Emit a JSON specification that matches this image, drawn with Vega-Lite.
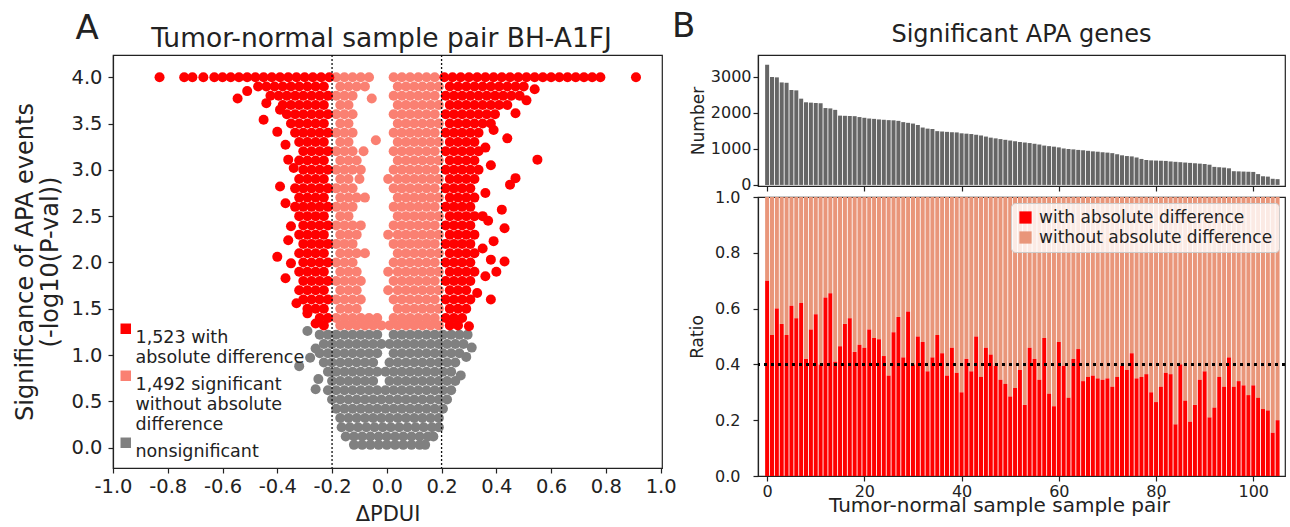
{
"$schema": "https://vega.github.io/schema/vega-lite/v6.json",
"background": "white",
"padding": {"left": 13, "top": 10, "right": 0, "bottom": 0},
"config": {
  "font": "DejaVu Sans",
  "view": {"stroke": "#222222", "strokeWidth": 1.2},
  "axis": {"domainColor": "#222222", "tickColor": "#222222", "labelColor": "#222222", "titleColor": "#222222", "grid": false, "titleFontWeight": "normal", "domainWidth": 1.2, "tickWidth": 1.2, "tickSize": 5},
  "title": {"fontWeight": "normal", "color": "#222222"},
  "legend": {"labelColor": "#222222"},
  "style": {"guide-label": {"lineHeight": 20}}
},
"datasets": {
"volcano": [
{"x":-0.29,"y":1.26,"c":"c"},
{"x":-0.245,"y":1.22,"c":"c"},{"x":-0.215,"y":1.22,"c":"c"},{"x":-0.185,"y":1.22,"c":"c"},{"x":-0.155,"y":1.22,"c":"c"},{"x":-0.125,"y":1.22,"c":"c"},{"x":-0.095,"y":1.22,"c":"c"},{"x":-0.065,"y":1.22,"c":"c"},{"x":-0.035,"y":1.22,"c":"c"},{"x":0.025,"y":1.22,"c":"c"},{"x":0.055,"y":1.22,"c":"c"},{"x":0.085,"y":1.22,"c":"c"},{"x":0.115,"y":1.22,"c":"c"},{"x":0.145,"y":1.22,"c":"c"},{"x":0.175,"y":1.22,"c":"c"},{"x":0.205,"y":1.22,"c":"c"},{"x":0.235,"y":1.22,"c":"c"},{"x":0.265,"y":1.22,"c":"c"},{"x":0.295,"y":1.22,"c":"c"},
{"x":-0.23,"y":1.12,"c":"c"},{"x":-0.2,"y":1.12,"c":"c"},{"x":-0.17,"y":1.12,"c":"c"},{"x":-0.14,"y":1.12,"c":"c"},{"x":-0.11,"y":1.12,"c":"c"},{"x":-0.08,"y":1.12,"c":"c"},{"x":-0.05,"y":1.12,"c":"c"},{"x":-0.02,"y":1.12,"c":"c"},{"x":0.01,"y":1.12,"c":"c"},{"x":0.04,"y":1.12,"c":"c"},{"x":0.07,"y":1.12,"c":"c"},{"x":0.1,"y":1.12,"c":"c"},{"x":0.13,"y":1.12,"c":"c"},{"x":0.16,"y":1.12,"c":"c"},{"x":0.19,"y":1.12,"c":"c"},{"x":0.22,"y":1.12,"c":"c"},{"x":0.25,"y":1.12,"c":"c"},{"x":0.28,"y":1.12,"c":"c"},
{"x":-0.26,"y":1.07,"c":"c"},{"x":0.31,"y":1.08,"c":"c"},
{"x":-0.245,"y":1.02,"c":"c"},{"x":-0.215,"y":1.02,"c":"c"},{"x":-0.185,"y":1.02,"c":"c"},{"x":-0.155,"y":1.02,"c":"c"},{"x":-0.125,"y":1.02,"c":"c"},{"x":-0.095,"y":1.02,"c":"c"},{"x":-0.065,"y":1.02,"c":"c"},{"x":-0.035,"y":1.02,"c":"c"},{"x":0.025,"y":1.02,"c":"c"},{"x":0.055,"y":1.02,"c":"c"},{"x":0.085,"y":1.02,"c":"c"},{"x":0.115,"y":1.02,"c":"c"},{"x":0.145,"y":1.02,"c":"c"},{"x":0.175,"y":1.02,"c":"c"},{"x":0.205,"y":1.02,"c":"c"},{"x":0.235,"y":1.02,"c":"c"},{"x":0.265,"y":1.02,"c":"c"},
{"x":0.29,"y":0.98,"c":"c"},{"x":-0.28,"y":0.97,"c":"c"},
{"x":-0.23,"y":0.92,"c":"c"},{"x":-0.2,"y":0.92,"c":"c"},{"x":-0.17,"y":0.92,"c":"c"},{"x":-0.14,"y":0.92,"c":"c"},{"x":-0.11,"y":0.92,"c":"c"},{"x":-0.08,"y":0.92,"c":"c"},{"x":-0.05,"y":0.92,"c":"c"},{"x":0.01,"y":0.92,"c":"c"},{"x":0.04,"y":0.92,"c":"c"},{"x":0.07,"y":0.92,"c":"c"},{"x":0.1,"y":0.92,"c":"c"},{"x":0.13,"y":0.92,"c":"c"},{"x":0.16,"y":0.92,"c":"c"},{"x":0.19,"y":0.92,"c":"c"},{"x":0.22,"y":0.92,"c":"c"},{"x":0.25,"y":0.92,"c":"c"},
{"x":-0.32,"y":0.88,"c":"c"},
{"x":-0.215,"y":0.82,"c":"c"},{"x":-0.185,"y":0.82,"c":"c"},{"x":-0.155,"y":0.82,"c":"c"},{"x":-0.125,"y":0.82,"c":"c"},{"x":-0.095,"y":0.82,"c":"c"},{"x":-0.065,"y":0.82,"c":"c"},{"x":-0.035,"y":0.82,"c":"c"},{"x":-0.005,"y":0.82,"c":"c"},{"x":0.025,"y":0.82,"c":"c"},{"x":0.055,"y":0.82,"c":"c"},{"x":0.085,"y":0.82,"c":"c"},{"x":0.115,"y":0.82,"c":"c"},{"x":0.145,"y":0.82,"c":"c"},{"x":0.175,"y":0.82,"c":"c"},{"x":0.205,"y":0.82,"c":"c"},{"x":0.235,"y":0.82,"c":"c"},
{"x":0.27,"y":0.78,"c":"c"},{"x":-0.25,"y":0.74,"c":"c"},
{"x":-0.2,"y":0.72,"c":"c"},{"x":-0.17,"y":0.72,"c":"c"},{"x":-0.14,"y":0.72,"c":"c"},{"x":-0.11,"y":0.72,"c":"c"},{"x":-0.08,"y":0.72,"c":"c"},{"x":-0.05,"y":0.72,"c":"c"},{"x":0.01,"y":0.72,"c":"c"},{"x":0.04,"y":0.72,"c":"c"},{"x":0.07,"y":0.72,"c":"c"},{"x":0.1,"y":0.72,"c":"c"},{"x":0.13,"y":0.72,"c":"c"},{"x":0.16,"y":0.72,"c":"c"},{"x":0.19,"y":0.72,"c":"c"},{"x":0.22,"y":0.72,"c":"c"},{"x":0.25,"y":0.72,"c":"c"},
{"x":-0.26,"y":0.63,"c":"c"},
{"x":-0.215,"y":0.62,"c":"c"},{"x":-0.185,"y":0.62,"c":"c"},{"x":-0.155,"y":0.62,"c":"c"},{"x":-0.125,"y":0.62,"c":"c"},{"x":-0.095,"y":0.62,"c":"c"},{"x":-0.065,"y":0.62,"c":"c"},{"x":-0.035,"y":0.62,"c":"c"},{"x":-0.005,"y":0.62,"c":"c"},{"x":0.025,"y":0.62,"c":"c"},{"x":0.055,"y":0.62,"c":"c"},{"x":0.085,"y":0.62,"c":"c"},{"x":0.115,"y":0.62,"c":"c"},{"x":0.145,"y":0.62,"c":"c"},{"x":0.175,"y":0.62,"c":"c"},{"x":0.205,"y":0.62,"c":"c"},{"x":0.235,"y":0.62,"c":"c"},
{"x":-0.2,"y":0.52,"c":"c"},{"x":-0.17,"y":0.52,"c":"c"},{"x":-0.14,"y":0.52,"c":"c"},{"x":-0.11,"y":0.52,"c":"c"},{"x":-0.08,"y":0.52,"c":"c"},{"x":-0.05,"y":0.52,"c":"c"},{"x":-0.02,"y":0.52,"c":"c"},{"x":0.01,"y":0.52,"c":"c"},{"x":0.04,"y":0.52,"c":"c"},{"x":0.07,"y":0.52,"c":"c"},{"x":0.1,"y":0.52,"c":"c"},{"x":0.13,"y":0.52,"c":"c"},{"x":0.16,"y":0.52,"c":"c"},{"x":0.19,"y":0.52,"c":"c"},{"x":0.22,"y":0.52,"c":"c"},
{"x":-0.185,"y":0.42,"c":"c"},{"x":-0.155,"y":0.42,"c":"c"},{"x":-0.125,"y":0.42,"c":"c"},{"x":-0.095,"y":0.42,"c":"c"},{"x":-0.065,"y":0.42,"c":"c"},{"x":-0.035,"y":0.42,"c":"c"},{"x":-0.005,"y":0.42,"c":"c"},{"x":0.025,"y":0.42,"c":"c"},{"x":0.055,"y":0.42,"c":"c"},{"x":0.085,"y":0.42,"c":"c"},{"x":0.115,"y":0.42,"c":"c"},{"x":0.145,"y":0.42,"c":"c"},{"x":0.175,"y":0.42,"c":"c"},{"x":0.205,"y":0.42,"c":"c"},
{"x":-0.17,"y":0.32,"c":"c"},{"x":-0.14,"y":0.32,"c":"c"},{"x":-0.11,"y":0.32,"c":"c"},{"x":-0.08,"y":0.32,"c":"c"},{"x":-0.05,"y":0.32,"c":"c"},{"x":-0.02,"y":0.32,"c":"c"},{"x":0.01,"y":0.32,"c":"c"},{"x":0.04,"y":0.32,"c":"c"},{"x":0.07,"y":0.32,"c":"c"},{"x":0.1,"y":0.32,"c":"c"},{"x":0.13,"y":0.32,"c":"c"},{"x":0.16,"y":0.32,"c":"c"},{"x":0.19,"y":0.32,"c":"c"},
{"x":-0.165,"y":0.22,"c":"c"},{"x":-0.135,"y":0.22,"c":"c"},{"x":-0.105,"y":0.22,"c":"c"},{"x":-0.075,"y":0.22,"c":"c"},{"x":-0.045,"y":0.22,"c":"c"},{"x":-0.015,"y":0.22,"c":"c"},{"x":0.015,"y":0.22,"c":"c"},{"x":0.045,"y":0.22,"c":"c"},{"x":0.075,"y":0.22,"c":"c"},{"x":0.105,"y":0.22,"c":"c"},{"x":0.135,"y":0.22,"c":"c"},{"x":0.165,"y":0.22,"c":"c"},{"x":0.19,"y":0.22,"c":"c"},
{"x":-0.15,"y":0.12,"c":"c"},{"x":-0.12,"y":0.12,"c":"c"},{"x":-0.09,"y":0.12,"c":"c"},{"x":-0.06,"y":0.12,"c":"c"},{"x":-0.03,"y":0.12,"c":"c"},{"x":0.0,"y":0.12,"c":"c"},{"x":0.03,"y":0.12,"c":"c"},{"x":0.06,"y":0.12,"c":"c"},{"x":0.09,"y":0.12,"c":"c"},{"x":0.12,"y":0.12,"c":"c"},{"x":0.15,"y":0.12,"c":"c"},{"x":0.17,"y":0.12,"c":"c"},
{"x":-0.12,"y":0.03,"c":"c"},{"x":-0.09,"y":0.03,"c":"c"},{"x":-0.06,"y":0.03,"c":"c"},{"x":-0.03,"y":0.03,"c":"c"},{"x":0.0,"y":0.03,"c":"c"},{"x":0.03,"y":0.03,"c":"c"},{"x":0.06,"y":0.03,"c":"c"},{"x":0.09,"y":0.03,"c":"c"},{"x":0.12,"y":0.03,"c":"c"},{"x":0.14,"y":0.03,"c":"c"},

{"x":-0.185,"y":4.0,"c":"b"},{"x":-0.155,"y":4.0,"c":"b"},{"x":-0.125,"y":4.0,"c":"b"},{"x":-0.095,"y":4.0,"c":"b"},{"x":-0.065,"y":4.0,"c":"b"},{"x":0.025,"y":4.0,"c":"b"},{"x":0.055,"y":4.0,"c":"b"},{"x":0.085,"y":4.0,"c":"b"},{"x":0.115,"y":4.0,"c":"b"},{"x":0.145,"y":4.0,"c":"b"},{"x":0.175,"y":4.0,"c":"b"},
{"x":-0.17,"y":3.9,"c":"b"},{"x":-0.14,"y":3.9,"c":"b"},{"x":-0.11,"y":3.9,"c":"b"},{"x":-0.08,"y":3.9,"c":"b"},{"x":0.04,"y":3.9,"c":"b"},{"x":0.07,"y":3.9,"c":"b"},{"x":0.1,"y":3.9,"c":"b"},{"x":0.13,"y":3.9,"c":"b"},{"x":0.16,"y":3.9,"c":"b"},{"x":0.19,"y":3.9,"c":"b"},
{"x":-0.185,"y":3.8,"c":"b"},{"x":-0.155,"y":3.8,"c":"b"},{"x":-0.125,"y":3.8,"c":"b"},{"x":-0.055,"y":3.77,"c":"b"},{"x":0.025,"y":3.8,"c":"b"},{"x":0.055,"y":3.8,"c":"b"},{"x":0.085,"y":3.8,"c":"b"},{"x":0.115,"y":3.8,"c":"b"},{"x":0.145,"y":3.8,"c":"b"},{"x":0.175,"y":3.8,"c":"b"},
{"x":-0.17,"y":3.7,"c":"b"},{"x":-0.14,"y":3.7,"c":"b"},{"x":0.04,"y":3.7,"c":"b"},{"x":0.07,"y":3.7,"c":"b"},{"x":0.1,"y":3.7,"c":"b"},{"x":0.13,"y":3.7,"c":"b"},{"x":0.16,"y":3.7,"c":"b"},{"x":0.19,"y":3.7,"c":"b"},
{"x":-0.185,"y":3.6,"c":"b"},{"x":-0.155,"y":3.6,"c":"b"},{"x":-0.125,"y":3.6,"c":"b"},{"x":0.025,"y":3.6,"c":"b"},{"x":0.055,"y":3.6,"c":"b"},{"x":0.085,"y":3.6,"c":"b"},{"x":0.115,"y":3.6,"c":"b"},{"x":0.145,"y":3.6,"c":"b"},{"x":0.175,"y":3.6,"c":"b"},
{"x":-0.17,"y":3.5,"c":"b"},{"x":-0.14,"y":3.5,"c":"b"},{"x":0.04,"y":3.5,"c":"b"},{"x":0.07,"y":3.5,"c":"b"},{"x":0.1,"y":3.5,"c":"b"},{"x":0.13,"y":3.5,"c":"b"},{"x":0.16,"y":3.5,"c":"b"},{"x":0.19,"y":3.5,"c":"b"},
{"x":-0.185,"y":3.4,"c":"b"},{"x":-0.155,"y":3.4,"c":"b"},{"x":-0.125,"y":3.4,"c":"b"},{"x":0.025,"y":3.4,"c":"b"},{"x":0.055,"y":3.4,"c":"b"},{"x":0.085,"y":3.4,"c":"b"},{"x":0.115,"y":3.4,"c":"b"},{"x":0.145,"y":3.4,"c":"b"},{"x":0.175,"y":3.4,"c":"b"},
{"x":-0.17,"y":3.3,"c":"b"},{"x":-0.14,"y":3.3,"c":"b"},{"x":-0.04,"y":3.32,"c":"b"},{"x":0.04,"y":3.3,"c":"b"},{"x":0.07,"y":3.3,"c":"b"},{"x":0.1,"y":3.3,"c":"b"},{"x":0.13,"y":3.3,"c":"b"},{"x":0.16,"y":3.3,"c":"b"},{"x":0.19,"y":3.3,"c":"b"},
{"x":-0.185,"y":3.2,"c":"b"},{"x":-0.155,"y":3.2,"c":"b"},{"x":-0.125,"y":3.2,"c":"b"},{"x":-0.085,"y":3.2,"c":"b"},{"x":0.025,"y":3.2,"c":"b"},{"x":0.055,"y":3.2,"c":"b"},{"x":0.085,"y":3.2,"c":"b"},{"x":0.115,"y":3.2,"c":"b"},{"x":0.145,"y":3.2,"c":"b"},{"x":0.175,"y":3.2,"c":"b"},
{"x":-0.17,"y":3.1,"c":"b"},{"x":-0.14,"y":3.1,"c":"b"},{"x":-0.11,"y":3.1,"c":"b"},{"x":0.04,"y":3.1,"c":"b"},{"x":0.07,"y":3.1,"c":"b"},{"x":0.1,"y":3.1,"c":"b"},{"x":0.13,"y":3.1,"c":"b"},{"x":0.16,"y":3.1,"c":"b"},{"x":0.19,"y":3.1,"c":"b"},
{"x":-0.185,"y":3.0,"c":"b"},{"x":-0.155,"y":3.0,"c":"b"},{"x":-0.125,"y":3.0,"c":"b"},{"x":-0.095,"y":3.0,"c":"b"},{"x":0.025,"y":3.0,"c":"b"},{"x":0.055,"y":3.0,"c":"b"},{"x":0.085,"y":3.0,"c":"b"},{"x":0.115,"y":3.0,"c":"b"},{"x":0.145,"y":3.0,"c":"b"},{"x":0.175,"y":3.0,"c":"b"},
{"x":-0.17,"y":2.9,"c":"b"},{"x":-0.14,"y":2.9,"c":"b"},{"x":-0.1,"y":2.9,"c":"b"},{"x":0.005,"y":2.9,"c":"b"},{"x":0.04,"y":2.9,"c":"b"},{"x":0.07,"y":2.9,"c":"b"},{"x":0.1,"y":2.9,"c":"b"},{"x":0.13,"y":2.9,"c":"b"},{"x":0.16,"y":2.9,"c":"b"},{"x":0.19,"y":2.9,"c":"b"},
{"x":-0.185,"y":2.8,"c":"b"},{"x":-0.155,"y":2.8,"c":"b"},{"x":-0.125,"y":2.8,"c":"b"},{"x":0.025,"y":2.8,"c":"b"},{"x":0.055,"y":2.8,"c":"b"},{"x":0.085,"y":2.8,"c":"b"},{"x":0.115,"y":2.8,"c":"b"},{"x":0.145,"y":2.8,"c":"b"},{"x":0.175,"y":2.8,"c":"b"},
{"x":-0.17,"y":2.7,"c":"b"},{"x":-0.14,"y":2.7,"c":"b"},{"x":-0.11,"y":2.7,"c":"b"},{"x":-0.08,"y":2.7,"c":"b"},{"x":0.04,"y":2.7,"c":"b"},{"x":0.07,"y":2.7,"c":"b"},{"x":0.1,"y":2.7,"c":"b"},{"x":0.13,"y":2.7,"c":"b"},{"x":0.16,"y":2.7,"c":"b"},{"x":0.19,"y":2.7,"c":"b"},
{"x":-0.185,"y":2.6,"c":"b"},{"x":-0.155,"y":2.6,"c":"b"},{"x":-0.125,"y":2.6,"c":"b"},{"x":0.025,"y":2.6,"c":"b"},{"x":0.055,"y":2.6,"c":"b"},{"x":0.085,"y":2.6,"c":"b"},{"x":0.115,"y":2.6,"c":"b"},{"x":0.145,"y":2.6,"c":"b"},{"x":0.175,"y":2.6,"c":"b"},
{"x":-0.17,"y":2.5,"c":"b"},{"x":-0.14,"y":2.5,"c":"b"},{"x":0.04,"y":2.5,"c":"b"},{"x":0.07,"y":2.5,"c":"b"},{"x":0.1,"y":2.5,"c":"b"},{"x":0.13,"y":2.5,"c":"b"},{"x":0.16,"y":2.5,"c":"b"},{"x":0.19,"y":2.5,"c":"b"},
{"x":-0.185,"y":2.4,"c":"b"},{"x":-0.155,"y":2.4,"c":"b"},{"x":-0.125,"y":2.4,"c":"b"},{"x":-0.095,"y":2.4,"c":"b"},{"x":0.025,"y":2.4,"c":"b"},{"x":0.055,"y":2.4,"c":"b"},{"x":0.085,"y":2.4,"c":"b"},{"x":0.115,"y":2.4,"c":"b"},{"x":0.145,"y":2.4,"c":"b"},{"x":0.175,"y":2.4,"c":"b"},
{"x":-0.17,"y":2.3,"c":"b"},{"x":-0.14,"y":2.3,"c":"b"},{"x":-0.11,"y":2.3,"c":"b"},{"x":0.005,"y":2.3,"c":"b"},{"x":0.04,"y":2.3,"c":"b"},{"x":0.07,"y":2.3,"c":"b"},{"x":0.1,"y":2.3,"c":"b"},{"x":0.13,"y":2.3,"c":"b"},{"x":0.16,"y":2.3,"c":"b"},{"x":0.19,"y":2.3,"c":"b"},
{"x":-0.185,"y":2.2,"c":"b"},{"x":-0.155,"y":2.2,"c":"b"},{"x":-0.125,"y":2.2,"c":"b"},{"x":0.025,"y":2.2,"c":"b"},{"x":0.055,"y":2.2,"c":"b"},{"x":0.085,"y":2.2,"c":"b"},{"x":0.115,"y":2.2,"c":"b"},{"x":0.145,"y":2.2,"c":"b"},{"x":0.175,"y":2.2,"c":"b"},
{"x":-0.17,"y":2.1,"c":"b"},{"x":-0.14,"y":2.1,"c":"b"},{"x":-0.11,"y":2.1,"c":"b"},{"x":-0.08,"y":2.1,"c":"b"},{"x":0.04,"y":2.1,"c":"b"},{"x":0.07,"y":2.1,"c":"b"},{"x":0.1,"y":2.1,"c":"b"},{"x":0.13,"y":2.1,"c":"b"},{"x":0.16,"y":2.1,"c":"b"},{"x":0.19,"y":2.1,"c":"b"},
{"x":-0.185,"y":2.0,"c":"b"},{"x":-0.155,"y":2.0,"c":"b"},{"x":-0.125,"y":2.0,"c":"b"},{"x":0.025,"y":2.0,"c":"b"},{"x":0.055,"y":2.0,"c":"b"},{"x":0.085,"y":2.0,"c":"b"},{"x":0.115,"y":2.0,"c":"b"},{"x":0.145,"y":2.0,"c":"b"},{"x":0.175,"y":2.0,"c":"b"},
{"x":-0.17,"y":1.9,"c":"b"},{"x":-0.14,"y":1.9,"c":"b"},{"x":-0.11,"y":1.9,"c":"b"},{"x":0.005,"y":1.9,"c":"b"},{"x":0.04,"y":1.9,"c":"b"},{"x":0.07,"y":1.9,"c":"b"},{"x":0.1,"y":1.9,"c":"b"},{"x":0.13,"y":1.9,"c":"b"},{"x":0.16,"y":1.9,"c":"b"},{"x":0.19,"y":1.9,"c":"b"},
{"x":-0.185,"y":1.8,"c":"b"},{"x":-0.155,"y":1.8,"c":"b"},{"x":-0.125,"y":1.8,"c":"b"},{"x":-0.095,"y":1.8,"c":"b"},{"x":0.025,"y":1.8,"c":"b"},{"x":0.055,"y":1.8,"c":"b"},{"x":0.085,"y":1.8,"c":"b"},{"x":0.115,"y":1.8,"c":"b"},{"x":0.145,"y":1.8,"c":"b"},{"x":0.175,"y":1.8,"c":"b"},
{"x":-0.17,"y":1.7,"c":"b"},{"x":-0.14,"y":1.7,"c":"b"},{"x":-0.11,"y":1.7,"c":"b"},{"x":0.005,"y":1.7,"c":"b"},{"x":0.04,"y":1.7,"c":"b"},{"x":0.07,"y":1.7,"c":"b"},{"x":0.1,"y":1.7,"c":"b"},{"x":0.13,"y":1.7,"c":"b"},{"x":0.16,"y":1.7,"c":"b"},{"x":0.19,"y":1.7,"c":"b"},
{"x":-0.185,"y":1.6,"c":"b"},{"x":-0.155,"y":1.6,"c":"b"},{"x":-0.125,"y":1.6,"c":"b"},{"x":-0.095,"y":1.6,"c":"b"},{"x":0.025,"y":1.6,"c":"b"},{"x":0.055,"y":1.6,"c":"b"},{"x":0.085,"y":1.6,"c":"b"},{"x":0.115,"y":1.6,"c":"b"},{"x":0.145,"y":1.6,"c":"b"},{"x":0.175,"y":1.6,"c":"b"},
{"x":-0.17,"y":1.5,"c":"b"},{"x":-0.14,"y":1.5,"c":"b"},{"x":-0.11,"y":1.5,"c":"b"},{"x":0.04,"y":1.5,"c":"b"},{"x":0.07,"y":1.5,"c":"b"},{"x":0.1,"y":1.5,"c":"b"},{"x":0.13,"y":1.5,"c":"b"},{"x":0.16,"y":1.5,"c":"b"},{"x":0.19,"y":1.5,"c":"b"},
{"x":-0.185,"y":1.4,"c":"b"},{"x":-0.155,"y":1.4,"c":"b"},{"x":-0.125,"y":1.4,"c":"b"},{"x":-0.095,"y":1.4,"c":"b"},{"x":-0.065,"y":1.4,"c":"b"},{"x":-0.035,"y":1.4,"c":"b"},{"x":0.025,"y":1.4,"c":"b"},{"x":0.055,"y":1.4,"c":"b"},{"x":0.085,"y":1.4,"c":"b"},{"x":0.115,"y":1.4,"c":"b"},{"x":0.145,"y":1.4,"c":"b"},{"x":0.175,"y":1.4,"c":"b"},
{"x":-0.17,"y":1.32,"c":"b"},{"x":-0.14,"y":1.32,"c":"b"},{"x":-0.11,"y":1.32,"c":"b"},{"x":-0.08,"y":1.32,"c":"b"},{"x":-0.05,"y":1.32,"c":"b"},{"x":-0.02,"y":1.32,"c":"b"},{"x":0.01,"y":1.32,"c":"b"},{"x":0.04,"y":1.32,"c":"b"},{"x":0.07,"y":1.32,"c":"b"},{"x":0.1,"y":1.32,"c":"b"},{"x":0.13,"y":1.32,"c":"b"},{"x":0.16,"y":1.32,"c":"b"},{"x":0.19,"y":1.32,"c":"b"},

{"x":-0.83,"y":4.0,"c":"a"},{"x":-0.74,"y":4.0,"c":"a"},{"x":-0.71,"y":4.0,"c":"a"},{"x":-0.67,"y":4.0,"c":"a"},{"x":-0.63,"y":4.0,"c":"a"},{"x":-0.6,"y":4.0,"c":"a"},{"x":-0.57,"y":4.0,"c":"a"},{"x":-0.54,"y":4.0,"c":"a"},{"x":-0.51,"y":4.0,"c":"a"},{"x":-0.48,"y":4.0,"c":"a"},{"x":-0.45,"y":4.0,"c":"a"},{"x":-0.42,"y":4.0,"c":"a"},{"x":-0.39,"y":4.0,"c":"a"},{"x":-0.36,"y":4.0,"c":"a"},{"x":-0.33,"y":4.0,"c":"a"},{"x":-0.3,"y":4.0,"c":"a"},{"x":-0.27,"y":4.0,"c":"a"},{"x":-0.24,"y":4.0,"c":"a"},{"x":-0.21,"y":4.0,"c":"a"},
{"x":0.21,"y":4.0,"c":"a"},{"x":0.24,"y":4.0,"c":"a"},{"x":0.27,"y":4.0,"c":"a"},{"x":0.3,"y":4.0,"c":"a"},{"x":0.33,"y":4.0,"c":"a"},{"x":0.36,"y":4.0,"c":"a"},{"x":0.39,"y":4.0,"c":"a"},{"x":0.42,"y":4.0,"c":"a"},{"x":0.45,"y":4.0,"c":"a"},{"x":0.48,"y":4.0,"c":"a"},{"x":0.51,"y":4.0,"c":"a"},{"x":0.54,"y":4.0,"c":"a"},{"x":0.57,"y":4.0,"c":"a"},{"x":0.6,"y":4.0,"c":"a"},{"x":0.63,"y":4.0,"c":"a"},{"x":0.66,"y":4.0,"c":"a"},{"x":0.69,"y":4.0,"c":"a"},{"x":0.72,"y":4.0,"c":"a"},{"x":0.75,"y":4.0,"c":"a"},{"x":0.78,"y":4.0,"c":"a"},{"x":0.91,"y":4.0,"c":"a"},
{"x":-0.51,"y":3.85,"c":"a"},{"x":-0.47,"y":3.9,"c":"a"},{"x":-0.44,"y":3.9,"c":"a"},{"x":-0.41,"y":3.9,"c":"a"},{"x":-0.38,"y":3.9,"c":"a"},{"x":-0.35,"y":3.9,"c":"a"},{"x":-0.32,"y":3.9,"c":"a"},{"x":-0.29,"y":3.9,"c":"a"},{"x":-0.26,"y":3.9,"c":"a"},{"x":-0.23,"y":3.9,"c":"a"},
{"x":0.23,"y":3.9,"c":"a"},{"x":0.26,"y":3.9,"c":"a"},{"x":0.29,"y":3.9,"c":"a"},{"x":0.32,"y":3.9,"c":"a"},{"x":0.35,"y":3.9,"c":"a"},{"x":0.38,"y":3.9,"c":"a"},{"x":0.41,"y":3.9,"c":"a"},{"x":0.44,"y":3.9,"c":"a"},{"x":0.47,"y":3.9,"c":"a"},{"x":0.5,"y":3.9,"c":"a"},{"x":0.54,"y":3.87,"c":"a"},
{"x":-0.545,"y":3.77,"c":"a"},{"x":-0.425,"y":3.8,"c":"a"},{"x":-0.395,"y":3.8,"c":"a"},{"x":-0.365,"y":3.8,"c":"a"},{"x":-0.335,"y":3.8,"c":"a"},{"x":-0.305,"y":3.8,"c":"a"},{"x":-0.275,"y":3.8,"c":"a"},{"x":-0.245,"y":3.8,"c":"a"},{"x":-0.215,"y":3.8,"c":"a"},
{"x":0.215,"y":3.8,"c":"a"},{"x":0.245,"y":3.8,"c":"a"},{"x":0.275,"y":3.8,"c":"a"},{"x":0.305,"y":3.8,"c":"a"},{"x":0.335,"y":3.8,"c":"a"},{"x":0.365,"y":3.8,"c":"a"},{"x":0.395,"y":3.8,"c":"a"},{"x":0.425,"y":3.8,"c":"a"},{"x":0.455,"y":3.8,"c":"a"},{"x":0.485,"y":3.8,"c":"a"},
{"x":-0.44,"y":3.72,"c":"a"},{"x":-0.38,"y":3.7,"c":"a"},{"x":-0.35,"y":3.7,"c":"a"},{"x":-0.32,"y":3.7,"c":"a"},{"x":-0.29,"y":3.7,"c":"a"},{"x":-0.26,"y":3.7,"c":"a"},{"x":-0.23,"y":3.7,"c":"a"},
{"x":0.23,"y":3.7,"c":"a"},{"x":0.26,"y":3.7,"c":"a"},{"x":0.29,"y":3.7,"c":"a"},{"x":0.32,"y":3.7,"c":"a"},{"x":0.35,"y":3.7,"c":"a"},{"x":0.38,"y":3.7,"c":"a"},{"x":0.41,"y":3.7,"c":"a"},{"x":0.44,"y":3.7,"c":"a"},{"x":0.51,"y":3.75,"c":"a"},
{"x":-0.39,"y":3.65,"c":"a"},{"x":-0.365,"y":3.6,"c":"a"},{"x":-0.335,"y":3.6,"c":"a"},{"x":-0.305,"y":3.6,"c":"a"},{"x":-0.275,"y":3.6,"c":"a"},{"x":-0.245,"y":3.6,"c":"a"},{"x":-0.215,"y":3.6,"c":"a"},
{"x":0.215,"y":3.6,"c":"a"},{"x":0.245,"y":3.6,"c":"a"},{"x":0.275,"y":3.6,"c":"a"},{"x":0.305,"y":3.6,"c":"a"},{"x":0.335,"y":3.6,"c":"a"},{"x":0.365,"y":3.6,"c":"a"},{"x":0.395,"y":3.6,"c":"a"},{"x":0.47,"y":3.61,"c":"a"},
{"x":-0.45,"y":3.54,"c":"a"},{"x":-0.35,"y":3.5,"c":"a"},{"x":-0.32,"y":3.5,"c":"a"},{"x":-0.29,"y":3.5,"c":"a"},{"x":-0.26,"y":3.5,"c":"a"},{"x":-0.23,"y":3.5,"c":"a"},
{"x":0.23,"y":3.5,"c":"a"},{"x":0.26,"y":3.5,"c":"a"},{"x":0.29,"y":3.5,"c":"a"},{"x":0.32,"y":3.5,"c":"a"},{"x":0.35,"y":3.5,"c":"a"},{"x":0.38,"y":3.5,"c":"a"},
{"x":-0.4,"y":3.41,"c":"a"},{"x":-0.335,"y":3.4,"c":"a"},{"x":-0.305,"y":3.4,"c":"a"},{"x":-0.275,"y":3.4,"c":"a"},{"x":-0.245,"y":3.4,"c":"a"},{"x":-0.215,"y":3.4,"c":"a"},
{"x":0.215,"y":3.4,"c":"a"},{"x":0.245,"y":3.4,"c":"a"},{"x":0.275,"y":3.4,"c":"a"},{"x":0.305,"y":3.4,"c":"a"},{"x":0.335,"y":3.4,"c":"a"},{"x":0.39,"y":3.43,"c":"a"},
{"x":-0.37,"y":3.27,"c":"a"},{"x":-0.32,"y":3.3,"c":"a"},{"x":-0.29,"y":3.3,"c":"a"},{"x":-0.26,"y":3.3,"c":"a"},{"x":-0.23,"y":3.3,"c":"a"},
{"x":0.23,"y":3.3,"c":"a"},{"x":0.26,"y":3.3,"c":"a"},{"x":0.29,"y":3.3,"c":"a"},{"x":0.32,"y":3.3,"c":"a"},{"x":0.44,"y":3.34,"c":"a"},
{"x":-0.305,"y":3.2,"c":"a"},{"x":-0.275,"y":3.2,"c":"a"},{"x":-0.245,"y":3.2,"c":"a"},{"x":-0.215,"y":3.2,"c":"a"},
{"x":0.215,"y":3.2,"c":"a"},{"x":0.245,"y":3.2,"c":"a"},{"x":0.275,"y":3.2,"c":"a"},{"x":0.305,"y":3.2,"c":"a"},{"x":0.335,"y":3.2,"c":"a"},{"x":0.36,"y":3.24,"c":"a"},
{"x":-0.36,"y":3.11,"c":"a"},{"x":-0.32,"y":3.1,"c":"a"},{"x":-0.29,"y":3.1,"c":"a"},{"x":-0.26,"y":3.1,"c":"a"},{"x":-0.23,"y":3.1,"c":"a"},
{"x":0.23,"y":3.1,"c":"a"},{"x":0.26,"y":3.1,"c":"a"},{"x":0.29,"y":3.1,"c":"a"},{"x":0.32,"y":3.1,"c":"a"},{"x":0.55,"y":3.11,"c":"a"},
{"x":-0.34,"y":3.02,"c":"a"},{"x":-0.305,"y":3.0,"c":"a"},{"x":-0.275,"y":3.0,"c":"a"},{"x":-0.245,"y":3.0,"c":"a"},{"x":-0.215,"y":3.0,"c":"a"},
{"x":0.215,"y":3.0,"c":"a"},{"x":0.245,"y":3.0,"c":"a"},{"x":0.275,"y":3.0,"c":"a"},{"x":0.305,"y":3.0,"c":"a"},{"x":0.335,"y":3.0,"c":"a"},{"x":0.38,"y":3.05,"c":"a"},
{"x":-0.32,"y":2.9,"c":"a"},{"x":-0.29,"y":2.9,"c":"a"},{"x":-0.26,"y":2.9,"c":"a"},{"x":-0.23,"y":2.9,"c":"a"},
{"x":0.23,"y":2.9,"c":"a"},{"x":0.26,"y":2.9,"c":"a"},{"x":0.29,"y":2.9,"c":"a"},{"x":0.32,"y":2.9,"c":"a"},{"x":0.47,"y":2.91,"c":"a"},
{"x":-0.39,"y":2.82,"c":"a"},{"x":-0.335,"y":2.8,"c":"a"},{"x":-0.305,"y":2.8,"c":"a"},{"x":-0.275,"y":2.8,"c":"a"},{"x":-0.245,"y":2.8,"c":"a"},{"x":-0.215,"y":2.8,"c":"a"},
{"x":0.215,"y":2.8,"c":"a"},{"x":0.245,"y":2.8,"c":"a"},{"x":0.275,"y":2.8,"c":"a"},{"x":0.305,"y":2.8,"c":"a"},{"x":0.45,"y":2.84,"c":"a"},
{"x":-0.32,"y":2.7,"c":"a"},{"x":-0.29,"y":2.7,"c":"a"},{"x":-0.26,"y":2.7,"c":"a"},{"x":-0.23,"y":2.7,"c":"a"},
{"x":0.23,"y":2.7,"c":"a"},{"x":0.26,"y":2.7,"c":"a"},{"x":0.29,"y":2.7,"c":"a"},{"x":0.32,"y":2.7,"c":"a"},{"x":0.36,"y":2.75,"c":"a"},
{"x":-0.37,"y":2.64,"c":"a"},{"x":-0.335,"y":2.6,"c":"a"},{"x":-0.305,"y":2.6,"c":"a"},{"x":-0.275,"y":2.6,"c":"a"},{"x":-0.245,"y":2.6,"c":"a"},{"x":-0.215,"y":2.6,"c":"a"},
{"x":0.215,"y":2.6,"c":"a"},{"x":0.245,"y":2.6,"c":"a"},{"x":0.275,"y":2.6,"c":"a"},{"x":0.305,"y":2.6,"c":"a"},{"x":0.42,"y":2.57,"c":"a"},
{"x":-0.32,"y":2.5,"c":"a"},{"x":-0.29,"y":2.5,"c":"a"},{"x":-0.26,"y":2.5,"c":"a"},{"x":-0.23,"y":2.5,"c":"a"},
{"x":0.23,"y":2.5,"c":"a"},{"x":0.26,"y":2.5,"c":"a"},{"x":0.29,"y":2.5,"c":"a"},{"x":0.32,"y":2.5,"c":"a"},{"x":0.35,"y":2.5,"c":"a"},
{"x":-0.35,"y":2.39,"c":"a"},{"x":-0.305,"y":2.4,"c":"a"},{"x":-0.275,"y":2.4,"c":"a"},{"x":-0.245,"y":2.4,"c":"a"},{"x":-0.215,"y":2.4,"c":"a"},
{"x":0.215,"y":2.4,"c":"a"},{"x":0.245,"y":2.4,"c":"a"},{"x":0.275,"y":2.4,"c":"a"},{"x":0.305,"y":2.4,"c":"a"},{"x":0.37,"y":2.45,"c":"a"},{"x":0.43,"y":2.37,"c":"a"},
{"x":-0.32,"y":2.3,"c":"a"},{"x":-0.29,"y":2.3,"c":"a"},{"x":-0.26,"y":2.3,"c":"a"},{"x":-0.23,"y":2.3,"c":"a"},
{"x":0.23,"y":2.3,"c":"a"},{"x":0.26,"y":2.3,"c":"a"},{"x":0.29,"y":2.3,"c":"a"},{"x":0.32,"y":2.3,"c":"a"},
{"x":-0.36,"y":2.24,"c":"a"},{"x":-0.305,"y":2.2,"c":"a"},{"x":-0.275,"y":2.2,"c":"a"},{"x":-0.245,"y":2.2,"c":"a"},{"x":-0.215,"y":2.2,"c":"a"},
{"x":0.215,"y":2.2,"c":"a"},{"x":0.245,"y":2.2,"c":"a"},{"x":0.275,"y":2.2,"c":"a"},{"x":0.305,"y":2.2,"c":"a"},{"x":0.39,"y":2.23,"c":"a"},{"x":0.35,"y":2.15,"c":"a"},
{"x":-0.32,"y":2.1,"c":"a"},{"x":-0.29,"y":2.1,"c":"a"},{"x":-0.26,"y":2.1,"c":"a"},{"x":-0.23,"y":2.1,"c":"a"},
{"x":0.23,"y":2.1,"c":"a"},{"x":0.26,"y":2.1,"c":"a"},{"x":0.29,"y":2.1,"c":"a"},{"x":0.32,"y":2.1,"c":"a"},
{"x":-0.4,"y":2.06,"c":"a"},{"x":-0.35,"y":1.99,"c":"a"},{"x":-0.305,"y":2.0,"c":"a"},{"x":-0.275,"y":2.0,"c":"a"},{"x":-0.245,"y":2.0,"c":"a"},{"x":-0.215,"y":2.0,"c":"a"},
{"x":0.215,"y":2.0,"c":"a"},{"x":0.245,"y":2.0,"c":"a"},{"x":0.275,"y":2.0,"c":"a"},{"x":0.305,"y":2.0,"c":"a"},{"x":0.43,"y":2.01,"c":"a"},{"x":0.38,"y":2.03,"c":"a"},
{"x":-0.32,"y":1.9,"c":"a"},{"x":-0.29,"y":1.9,"c":"a"},{"x":-0.26,"y":1.9,"c":"a"},{"x":-0.23,"y":1.9,"c":"a"},
{"x":0.23,"y":1.9,"c":"a"},{"x":0.26,"y":1.9,"c":"a"},{"x":0.29,"y":1.9,"c":"a"},{"x":0.32,"y":1.9,"c":"a"},{"x":0.4,"y":1.9,"c":"a"},
{"x":-0.37,"y":1.83,"c":"a"},{"x":-0.305,"y":1.8,"c":"a"},{"x":-0.275,"y":1.8,"c":"a"},{"x":-0.245,"y":1.8,"c":"a"},{"x":-0.215,"y":1.8,"c":"a"},
{"x":0.215,"y":1.8,"c":"a"},{"x":0.245,"y":1.8,"c":"a"},{"x":0.275,"y":1.8,"c":"a"},{"x":0.305,"y":1.8,"c":"a"},{"x":0.36,"y":1.85,"c":"a"},
{"x":-0.32,"y":1.7,"c":"a"},{"x":-0.29,"y":1.7,"c":"a"},{"x":-0.26,"y":1.7,"c":"a"},{"x":-0.23,"y":1.7,"c":"a"},
{"x":0.23,"y":1.7,"c":"a"},{"x":0.26,"y":1.7,"c":"a"},{"x":0.29,"y":1.7,"c":"a"},{"x":0.33,"y":1.67,"c":"a"},
{"x":-0.33,"y":1.56,"c":"a"},{"x":-0.305,"y":1.6,"c":"a"},{"x":-0.275,"y":1.6,"c":"a"},{"x":-0.245,"y":1.6,"c":"a"},{"x":-0.215,"y":1.6,"c":"a"},
{"x":0.215,"y":1.6,"c":"a"},{"x":0.245,"y":1.6,"c":"a"},{"x":0.275,"y":1.6,"c":"a"},{"x":0.305,"y":1.6,"c":"a"},{"x":0.38,"y":1.6,"c":"a"},
{"x":-0.29,"y":1.5,"c":"a"},{"x":-0.26,"y":1.5,"c":"a"},{"x":-0.23,"y":1.5,"c":"a"},
{"x":0.23,"y":1.5,"c":"a"},{"x":0.26,"y":1.5,"c":"a"},{"x":0.29,"y":1.5,"c":"a"},
{"x":-0.29,"y":1.45,"c":"a"},{"x":-0.245,"y":1.4,"c":"a"},{"x":-0.215,"y":1.4,"c":"a"},
{"x":0.215,"y":1.4,"c":"a"},{"x":0.245,"y":1.4,"c":"a"},{"x":0.275,"y":1.4,"c":"a"},
{"x":-0.26,"y":1.34,"c":"a"},{"x":-0.23,"y":1.32,"c":"a"},
{"x":0.23,"y":1.32,"c":"a"},{"x":0.26,"y":1.32,"c":"a"},{"x":0.3,"y":1.31,"c":"a"}
],
"pairs": [
{"i":0,"n":3330,"r":0.7},{"i":1,"n":2990,"r":0.505},{"i":2,"n":2980,"r":0.6},{"i":3,"n":2840,"r":0.545},{"i":4,"n":2830,"r":0.505},
{"i":5,"n":2630,"r":0.61},{"i":6,"n":2620,"r":0.565},{"i":7,"n":2390,"r":0.62},{"i":8,"n":2290,"r":0.42},{"i":9,"n":2280,"r":0.525},
{"i":10,"n":2270,"r":0.58},{"i":11,"n":2260,"r":0.4},{"i":12,"n":2130,"r":0.64},{"i":13,"n":2120,"r":0.655},{"i":14,"n":2080,"r":0.41},
{"i":15,"n":1920,"r":0.465},{"i":16,"n":1915,"r":0.545},{"i":17,"n":1910,"r":0.565},{"i":18,"n":1905,"r":0.445},{"i":19,"n":1880,"r":0.47},
{"i":20,"n":1860,"r":0.46},{"i":21,"n":1840,"r":0.525},{"i":22,"n":1830,"r":0.495},{"i":23,"n":1815,"r":0.49},{"i":24,"n":1805,"r":0.43},
{"i":25,"n":1795,"r":0.36},{"i":26,"n":1790,"r":0.515},{"i":27,"n":1775,"r":0.57},{"i":28,"n":1740,"r":0.425},{"i":29,"n":1720,"r":0.59},
{"i":30,"n":1700,"r":0.4},{"i":31,"n":1660,"r":0.5},{"i":32,"n":1590,"r":0.48},{"i":33,"n":1560,"r":0.375},{"i":34,"n":1550,"r":0.425},
{"i":35,"n":1490,"r":0.505},{"i":36,"n":1480,"r":0.44},{"i":37,"n":1470,"r":0.36},{"i":38,"n":1460,"r":0.46},{"i":39,"n":1455,"r":0.37},
{"i":40,"n":1430,"r":0.3},{"i":41,"n":1420,"r":0.42},{"i":42,"n":1410,"r":0.375},{"i":43,"n":1390,"r":0.5},{"i":44,"n":1370,"r":0.355},
{"i":45,"n":1340,"r":0.46},{"i":46,"n":1310,"r":0.435},{"i":47,"n":1290,"r":0.395},{"i":48,"n":1270,"r":0.345},{"i":49,"n":1250,"r":0.33},
{"i":50,"n":1230,"r":0.285},{"i":51,"n":1210,"r":0.315},{"i":52,"n":1190,"r":0.38},{"i":53,"n":1175,"r":0.255},{"i":54,"n":1160,"r":0.46},
{"i":55,"n":1140,"r":0.42},{"i":56,"n":1120,"r":0.345},{"i":57,"n":1090,"r":0.495},{"i":58,"n":1075,"r":0.295},{"i":59,"n":1060,"r":0.25},
{"i":60,"n":1040,"r":0.48},{"i":61,"n":1010,"r":0.395},{"i":62,"n":995,"r":0.28},{"i":63,"n":985,"r":0.42},{"i":64,"n":970,"r":0.455},
{"i":65,"n":960,"r":0.34},{"i":66,"n":945,"r":0.355},{"i":67,"n":930,"r":0.36},{"i":68,"n":920,"r":0.35},{"i":69,"n":905,"r":0.345},
{"i":70,"n":895,"r":0.35},{"i":71,"n":880,"r":0.32},{"i":72,"n":850,"r":0.355},{"i":73,"n":820,"r":0.395},{"i":74,"n":800,"r":0.38},
{"i":75,"n":790,"r":0.44},{"i":76,"n":760,"r":0.35},{"i":77,"n":720,"r":0.355},{"i":78,"n":690,"r":0.365},{"i":79,"n":680,"r":0.3},
{"i":80,"n":675,"r":0.265},{"i":81,"n":670,"r":0.32},{"i":82,"n":665,"r":0.37},{"i":83,"n":650,"r":0.365},{"i":84,"n":640,"r":0.185},
{"i":85,"n":630,"r":0.4},{"i":86,"n":620,"r":0.27},{"i":87,"n":610,"r":0.195},{"i":88,"n":600,"r":0.255},{"i":89,"n":590,"r":0.345},
{"i":90,"n":580,"r":0.375},{"i":91,"n":560,"r":0.21},{"i":92,"n":500,"r":0.245},{"i":93,"n":490,"r":0.355},{"i":94,"n":480,"r":0.32},
{"i":95,"n":460,"r":0.425},{"i":96,"n":380,"r":0.32},{"i":97,"n":375,"r":0.34},{"i":98,"n":370,"r":0.325},{"i":99,"n":365,"r":0.29},
{"i":100,"n":360,"r":0.325},{"i":101,"n":300,"r":0.28},{"i":102,"n":240,"r":0.24},{"i":103,"n":230,"r":0.235},{"i":104,"n":170,"r":0.155},
{"i":105,"n":160,"r":0.2}
]
},
"resolve": {"scale": {"color": "independent"}, "legend": {"color": "independent"}},
"spacing": -6,
"hconcat": [
 {
  "title": {"text": "A", "anchor": "start", "fontSize": 34, "fontWeight": "normal", "baseline": "top", "offset": -21, "dx": 62},
  "resolve": {"scale": {"color": "independent"}, "legend": {"color": "independent"}},
  "vconcat": [
   {
    "title": {"text": "Tumor-normal sample pair BH-A1FJ", "fontSize": 26.5, "fontWeight": "normal", "baseline": "top", "offset": 2, "anchor": "middle", "frame": "group", "dx": -6},
    "width": 549,
    "height": 413,
    "layer": [
     {
      "data": {"name": "volcano"},
      "mark": {"type": "circle", "size": 100, "opacity": 1},
      "encoding": {
       "x": {"field": "x", "type": "quantitative", "scale": {"domain": [-1, 1.005], "nice": false, "zero": false},
             "axis": {"values": [-1, -0.8, -0.6, -0.4, -0.2, 0, 0.2, 0.4, 0.6, 0.8, 1], "labelExpr": "datum.value < 0 ? '-' + format(-datum.value, '.1f') : format(datum.value, '.1f')", "labelFontSize": 19.5, "labelFlush": false, "labelPadding": 4, "title": "ΔPDUI", "titleFontSize": 21, "titlePadding": 8}},
       "y": {"field": "y", "type": "quantitative", "scale": {"domain": [-0.22, 4.24], "nice": false, "zero": false},
             "axis": {"values": [0, 0.5, 1, 1.5, 2, 2.5, 3, 3.5, 4], "format": ".1f", "labelFontSize": 19.5, "labelPadding": 6, "title": ["Significance of APA events", "(-log10(P-val))"], "titleFontSize": 24, "titleLineHeight": 25, "titlePadding": 8}},
       "color": {"field": "c", "type": "nominal", "scale": {"domain": ["a", "b", "c"], "range": ["#ff0000", "#fa8072", "#808080"]},
             "legend": {"title": null, "orient": "none", "legendX": 4, "legendY": 265, "symbolType": "square", "symbolSize": 110, "symbolOpacity": 1, "labelFontSize": 17.5, "labelLimit": 400, "labelOffset": 1, "rowPadding": -4, "labelBaseline": "top",
                        "labelExpr": "datum.value == 'a' ? ['1,523 with', 'absolute difference'] : datum.value == 'b' ? ['1,492 significant', 'without absolute', 'difference'] : 'nonsignificant'"}}
      }
     },
     {
      "data": {"values": [{"v": -0.2}, {"v": 0.2}]},
      "mark": {"type": "rule", "color": "#111111", "strokeWidth": 1.3, "strokeDash": [2, 2]},
      "encoding": {"x": {"field": "v", "type": "quantitative"}}
     }
    ]
   }
  ]
 },
 {
  "title": {"text": "B", "anchor": "start", "fontSize": 34, "fontWeight": "normal", "baseline": "top", "offset": -22, "dx": -16},
  "resolve": {"scale": {"color": "independent"}, "legend": {"color": "independent"}},
  "vconcat": [
   {
    "bounds": "flush",
    "spacing": 11,
    "resolve": {"scale": {"color": "independent"}, "legend": {"color": "independent"}},
    "vconcat": [
     {
      "title": {"text": "Significant APA genes", "fontSize": 24, "fontWeight": "normal", "baseline": "top", "offset": 8, "anchor": "middle", "frame": "group"},
      "data": {"name": "pairs"},
      "width": 527,
      "height": 131,
      "mark": {"type": "bar", "orient": "vertical", "size": 4, "color": "#666666"},
      "encoding": {
       "x": {"field": "i", "type": "quantitative", "scale": {"domain": [-0.85, 105.5], "nice": false, "zero": false},
             "axis": {"values": [0, 20, 40, 60, 80, 100], "labels": false, "title": null}},
       "y": {"field": "n", "type": "quantitative", "scale": {"domain": [-30, 3600], "nice": false, "zero": false},
             "axis": {"values": [0, 1000, 2000, 3000], "format": "d", "labelFontSize": 16, "labelPadding": 2, "title": "Number", "titleFontSize": 17, "titlePadding": 3}}
      }
     },
     {
      "data": {"name": "pairs"},
      "width": 527,
      "height": 279,
      "layer": [
       {
        "mark": {"type": "bar", "orient": "vertical", "size": 4},
        "encoding": {
         "x": {"field": "i", "type": "quantitative", "scale": {"domain": [-0.85, 105.5], "nice": false, "zero": false},
               "axis": {"values": [0, 20, 40, 60, 80, 100], "labelFontSize": 16, "labelFlush": false, "labelPadding": 2, "title": "Tumor-normal sample sample pair", "titleFontSize": 20, "titlePadding": -4, "titleX": 241}},
         "y": {"field": "r", "type": "quantitative", "scale": {"domain": [0, 1], "nice": false, "zero": false},
               "axis": {"values": [0, 0.2, 0.4, 0.6, 0.8, 1], "format": ".1f", "labelFontSize": 16, "labelPadding": 13, "title": "Ratio", "titleFontSize": 17, "titlePadding": 8}},
         "y2": {"datum": 1},
         "color": {"datum": "without absolute difference", "type": "nominal",
                   "scale": {"domain": ["with absolute difference", "without absolute difference"], "range": ["#ff0000", "#e9967a"]},
                   "legend": {"title": null, "orient": "top-right", "offset": 6, "padding": 6, "fillColor": "rgba(255,255,255,0.8)", "strokeColor": "#cccccc", "cornerRadius": 4, "symbolType": "square", "symbolSize": 150, "labelFontSize": 17, "labelLimit": 400, "labelOffset": 5, "rowPadding": 2}}
        }
       },
       {
        "mark": {"type": "bar", "orient": "vertical", "size": 4},
        "encoding": {
         "x": {"field": "i", "type": "quantitative",
               "axis": {"values": [0, 20, 40, 60, 80, 100], "labelFontSize": 16, "labelFlush": false, "labelPadding": 2, "title": "Tumor-normal sample sample pair", "titleFontSize": 20, "titlePadding": -4, "titleX": 241}},
         "y": {"field": "r", "type": "quantitative", "stack": null,
               "axis": {"values": [0, 0.2, 0.4, 0.6, 0.8, 1], "format": ".1f", "labelFontSize": 16, "labelPadding": 13, "title": "Ratio", "titleFontSize": 17, "titlePadding": 8}},
         "color": {"datum": "with absolute difference", "type": "nominal"}
        }
       },
       {
        "data": {"values": [{}]},
        "mark": {"type": "rule", "color": "#000000", "strokeWidth": 3, "strokeDash": [3, 4]},
        "encoding": {"y": {"datum": 0.4}}
       }
      ]
     }
    ]
   }
  ]
 }
]
}
